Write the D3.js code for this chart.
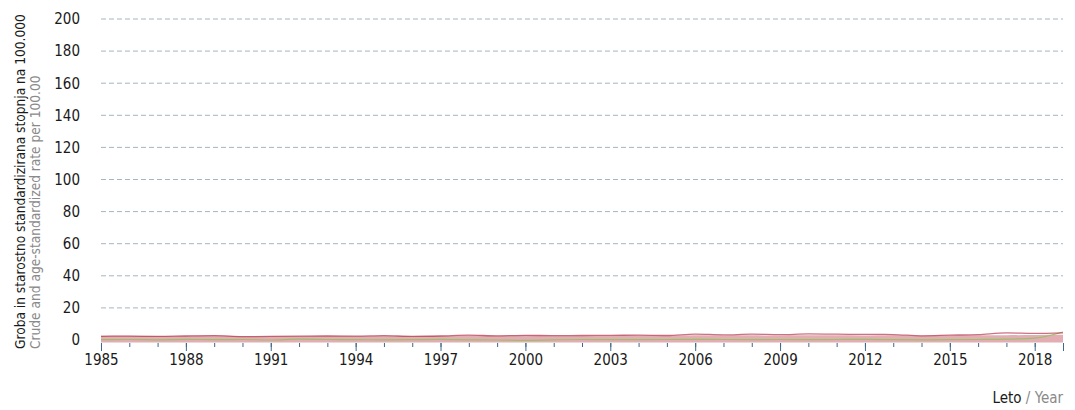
<!DOCTYPE html>
<html>
<head>
<meta charset="utf-8">
<script src="https://cdn.jsdelivr.net/npm/d3@7"></script>
<style>
  body { margin: 0; background: #fff; }
  text { font-family: "DejaVu Sans Condensed", "DejaVu Sans", sans-serif; font-stretch: condensed; }
  .grid line { stroke: #a3b6c4; stroke-dasharray: 5,3; stroke-width: 1; }
</style>
</head>
<body>
<script>
var years = d3.range(1985, 2020);
// pink band (crude rate), dark red line (age-standardized), green line
var bandVals  = [2.6, 2.6, 2.5, 2.7, 2.8, 2.4, 2.4, 2.5, 2.6, 2.5, 2.7, 2.5, 2.6, 2.8, 2.7, 2.8, 2.7, 2.6, 2.7, 2.8, 2.7, 2.9, 2.8, 2.9, 2.8, 2.9, 2.9, 2.8, 2.9, 2.7, 2.8, 2.9, 3.0, 3.1, 3.2];
var redVals   = [2.3, 2.4, 2.2, 2.5, 2.7, 2.1, 2.2, 2.4, 2.5, 2.4, 2.7, 2.3, 2.5, 3.0, 2.6, 2.9, 2.7, 2.8, 2.9, 3.0, 2.8, 3.7, 3.2, 3.6, 3.3, 3.8, 3.6, 3.5, 3.4, 2.6, 3.0, 3.4, 4.4, 4.1, 4.5];
var greenVals = [0.2, 0.3, 0.1, 0.4, 0.2, 0.3, 0.0, 0.5, 0.3, 0.2, 0.1, 0.2, 0.4, 0.1, 0.0, -0.2, 0.1, 0.3, 0.2, 0.2, 0.3, 0.4, 0.3, 0.2, 0.3, 0.2, 0.3, 0.4, 0.2, 0.1, 0.2, 0.3, 0.5, 1.2, 5.0];
var yTicks = d3.range(0, 201, 20);
var xTicks = d3.range(1985, 2019, 3);

var margin = {top: 19, right: 12, bottom: 70, left: 101}
  , width = 1075 - margin.left - margin.right
  , height = 410 - margin.top - margin.bottom;

var svg = d3.select("body").append("svg")
    .attr("width", 1075)
    .attr("height", 410);

var g = svg.append("g")
    .attr("transform", "translate(" + margin.left + "," + margin.top + ")");

var xScale = d3.scaleLinear().domain([1985, 2019]).range([0, width]);
var yScale = d3.scaleLinear().domain([0, 200]).range([height, 0]);

// dashed grid
g.append("g")
    .attr("class", "grid")
    .selectAll("line")
    .data(yTicks.filter(function(d) { return d > 0; }))
    .enter().append("line")
      .attr("x1", 0)
      .attr("x2", width)
      .attr("y1", function(d) { return yScale(d); })
      .attr("y2", function(d) { return yScale(d); });

// y axis labels
var yAxis = g.append("g")
    .call(d3.axisLeft(yScale).tickValues(yTicks).tickSize(0).tickPadding(21));
yAxis.select(".domain").remove();
yAxis.selectAll("text").style("font-size", "15px").attr("fill", "#1a1a1a");

// x axis: minor ticks every year, major every 3
var xAxis = g.append("g")
    .attr("transform", "translate(0," + (height + 3) + ")")
    .call(d3.axisBottom(xScale).tickValues(years).tickSize(4).tickFormat(""));
xAxis.select(".domain").remove();
xAxis.selectAll("line").attr("stroke", "#3d6a8c");

var xMajor = g.append("g")
    .attr("transform", "translate(0," + (height + 3) + ")")
    .call(d3.axisBottom(xScale).tickValues(xTicks.concat([2019])).tickSize(8).tickPadding(3)
      .tickFormat(function(d) { return d === 2019 ? "" : d; }));
xMajor.select(".domain").remove();
xMajor.selectAll("line").attr("stroke", "#3d6a8c");
xMajor.selectAll("text").style("font-size", "15px").attr("fill", "#1a1a1a");

// series
var area = d3.area()
    .x(function(d, i) { return xScale(years[i]); })
    .y0(yScale(-1.6))
    .y1(function(d) { return yScale(d); })
    .curve(d3.curveMonotoneX);

g.append("path")
    .datum(bandVals)
    .attr("d", area)
    .attr("fill", "#e2aeb4");

var line = d3.line()
    .x(function(d, i) { return xScale(years[i]); })
    .y(function(d) { return yScale(d); })
    .curve(d3.curveMonotoneX);

g.append("path")
    .datum(greenVals)
    .attr("d", line)
    .attr("fill", "none")
    .attr("stroke", "#9cbf6a")
    .attr("stroke-width", 1.2);

g.append("path")
    .datum(redVals)
    .attr("d", line)
    .attr("fill", "none")
    .attr("stroke", "#b5344c")
    .attr("stroke-width", 1.3)
    .attr("opacity", 0.7);

// axis titles
svg.append("text")
    .attr("transform", "translate(25,349) rotate(-90)")
    .attr("text-anchor", "start")
    .style("font-size", "13.6px")
    .attr("fill", "#1a1a1a")
    .text("Groba in starostno standardizirana stopnja na 100.000");

svg.append("text")
    .attr("transform", "translate(40,349) rotate(-90)")
    .attr("text-anchor", "start")
    .style("font-size", "13.6px")
    .attr("fill", "#8a8a8a")
    .text("Crude and age-standardized rate per 100.00");

var lab = svg.append("text")
    .attr("x", 1063)
    .attr("y", 403)
    .attr("text-anchor", "end")
    .style("font-size", "15px");
lab.append("tspan").attr("fill", "#1a1a1a").text("Leto");
lab.append("tspan").attr("fill", "#8a8a8a").text(" / Year");
</script>
</body>
</html>
